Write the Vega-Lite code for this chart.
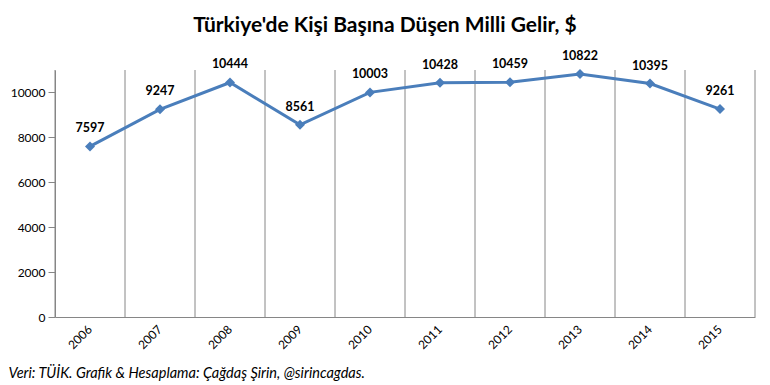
{
  "$schema": "https://vega.github.io/schema/vega-lite/v6.json",
  "width": 700,
  "height": 247,
  "autosize": {"type": "none"},
  "padding": {"left": 55, "top": 70, "right": 15, "bottom": 68},
  "background": "white",
  "config": {
    "font": "Lato",
    "view": {"stroke": null}
  },
  "title": {
    "text": "Türkiye'de Kişi Başına Düşen Milli Gelir, $",
    "fontSize": 21,
    "fontWeight": "bold",
    "font": "Lato",
    "color": "#000000",
    "anchor": "middle",
    "dx": -20,
    "offset": 14
  },
  "data": {
    "values": [
      {"year": "2006", "value": 7597},
      {"year": "2007", "value": 9247},
      {"year": "2008", "value": 10444},
      {"year": "2009", "value": 8561},
      {"year": "2010", "value": 10003},
      {"year": "2011", "value": 10428},
      {"year": "2012", "value": 10459},
      {"year": "2013", "value": 10822},
      {"year": "2014", "value": 10395},
      {"year": "2015", "value": 9261}
    ]
  },
  "encoding": {
    "x": {
      "field": "year",
      "type": "ordinal",
      "scale": {"paddingInner": 0, "paddingOuter": 0},
      "axis": {
        "title": "Veri: TÜİK. Grafik & Hesaplama: Çağdaş Şirin, @sirincagdas.",
        "titleFontStyle": "italic",
        "titleFontWeight": "normal",
        "titleFontSize": 14.5,
        "titleColor": "#000000",
        "titleAnchor": "start",
        "titleAlign": "left",
        "titleBaseline": "alphabetic",
        "titleX": -47,
        "titleY": 60,
        "labelAngle": -45,
        "labelAlign": "right",
        "labelBaseline": "middle",
        "labelPadding": 10,
        "labelFontSize": 12,
        "labelColor": "#000000",
        "ticks": false,
        "grid": false,
        "domainColor": "#868686",
        "domainWidth": 1
      }
    },
    "y": {
      "field": "value",
      "type": "quantitative",
      "scale": {"domain": [0, 11000], "nice": false},
      "axis": {
        "title": null,
        "values": [0, 2000, 4000, 6000, 8000, 10000],
        "format": "d",
        "grid": false,
        "labelFontSize": 12,
        "labelColor": "#000000",
        "labelPadding": 3,
        "tickSize": 7,
        "tickColor": "#868686",
        "domainColor": "#868686",
        "domainWidth": 1
      }
    }
  },
  "layer": [
    {
      "mark": {"type": "rule", "color": "#868686", "strokeWidth": 1},
      "encoding": {"x": {"field": "year", "type": "ordinal", "bandPosition": 0}, "y": null}
    },
    {
      "transform": [{"filter": "datum.year == '2015'"}],
      "mark": {"type": "rule", "color": "#868686", "strokeWidth": 1},
      "encoding": {"x": {"field": "year", "type": "ordinal", "bandPosition": 1}, "y": null}
    },
    {
      "mark": {"type": "line", "color": "#4A7EBB", "strokeWidth": 3}
    },
    {
      "mark": {"type": "point", "shape": "diamond", "filled": true, "color": "#4A7EBB", "size": 100, "opacity": 1}
    },
    {
      "mark": {"type": "text", "dy": -18, "fontWeight": "bold", "fontSize": 12.5, "color": "#000000", "font": "Lato"},
      "encoding": {"text": {"field": "value", "type": "quantitative", "format": "d"}}
    }
  ]
}
